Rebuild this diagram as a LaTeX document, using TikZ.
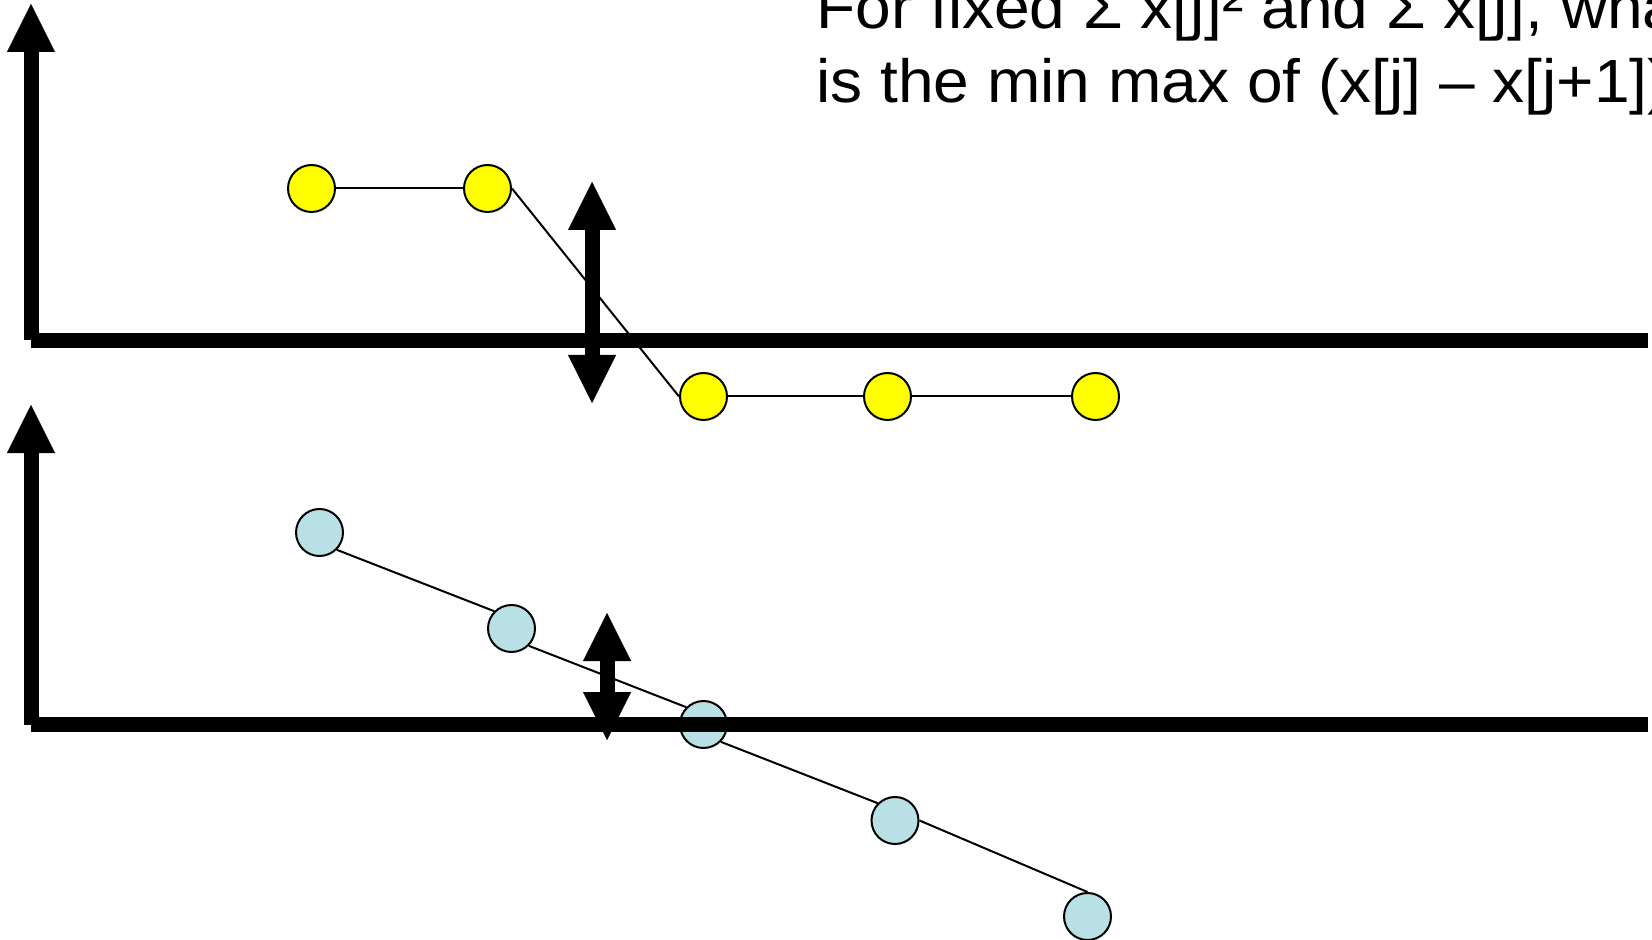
\documentclass[tikz,border=0pt]{standalone}
\usepackage{fontspec}
\setmainfont[FakeStretch=1.05]{Liberation Sans}
\usetikzlibrary{arrows.meta}
\definecolor{dotyellow}{RGB}{255,255,0}
\definecolor{dotblue}{RGB}{185,224,228}
\begin{document}
\begin{tikzpicture}[x=0.5pt,y=-0.5pt,
  axisline/.style={line width=7.5pt,line cap=butt},
  bigtip/.tip={Triangle[length=24pt,width=24pt,line width=0.01pt]},
  dot/.style={circle,draw=black,line width=1pt,minimum size=23.5pt,inner sep=0pt},
  ydot/.style={dot,fill=dotyellow},
  bdot/.style={dot,fill=dotblue},
  link/.style={draw=black,line width=1pt},
  question/.style={anchor=base west,inner sep=0pt,font=\fontsize{30.5pt}{37pt}\selectfont}]
\useasboundingbox (0,0) rectangle (1652,940);
\begin{scope}
\clip (0,0) rectangle (1652,940);

% question text, running past the edge
\node[question] (q1) at (816,29) {For fixed Σ x[j]² and Σ x[j], what};
\node[question] (q2) at (816,103) {is the min max of (x[j] – x[j+1])²?};

% upper sequence: a step
\node[ydot] (y1) at (311.5,188.5) {};
\node[ydot] (y2) at (487.5,188.5) {};
\node[ydot] (y3) at (703.5,396.5) {};
\node[ydot] (y4) at (887.5,396.5) {};
\node[ydot] (y5) at (1095.5,396.5) {};
\draw[link] (y1.east) -- (y2.west);
\draw[link] (y2.east) -- (y3.west);
\draw[link] (y3.east) -- (y4.west);
\draw[link] (y4.east) -- (y5.west);

% lower sequence: a straight ramp
\node[bdot] (b1) at (319.5,532.5) {};
\node[bdot] (b2) at (511.5,628.5) {};
\node[bdot] (b3) at (703.5,724.5) {};
\node[bdot] (b4) at (895,820.5) {};
\node[bdot] (b5) at (1087.5,916.5) {};
\draw[link] (b1.south east) -- (b2.north west);
\draw[link] (b2.south east) -- (b3.north west);
\draw[link] (b3.south east) -- (b4.north west);
\draw[link] (b4.east) -- (b5.north);

% axes
\coordinate (o1) at (31,340.5);
\coordinate (t1) at (31,4);
\coordinate (r1) at (1648,340.5);
\coordinate (o2) at (31,724.5);
\coordinate (t2) at (31,405);
\coordinate (r2) at (1648,724.5);
\draw[axisline,-bigtip] (o1) -- (t1);
\draw[axisline] (o1) -- (r1);
\draw[axisline,-bigtip] (o2) -- (t2);
\draw[axisline] (o2) -- (r2);

% jump size markers
\coordinate (j1a) at (592,182);
\coordinate (j1b) at (592,403);
\coordinate (j2a) at (607,613);
\coordinate (j2b) at (607,740);
\draw[axisline,bigtip-bigtip] (j1a) -- (j1b);
\draw[axisline,bigtip-bigtip] (j2a) -- (j2b);
\end{scope}
\end{tikzpicture}
\end{document}
